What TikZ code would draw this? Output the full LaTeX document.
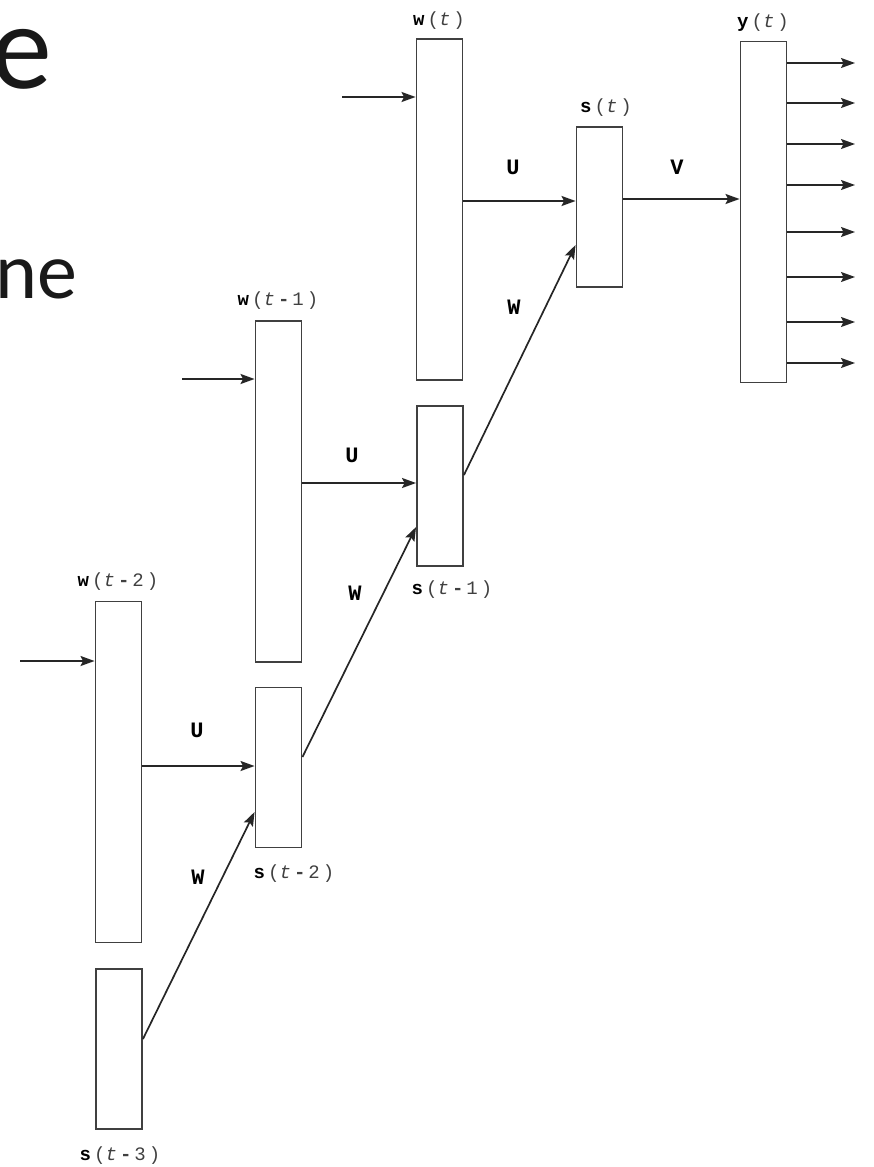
\documentclass[tikz,border=0pt]{standalone}
\usepackage{fontspec}
\setmainfont{Liberation Mono}
\newfontfamily\slidefont{Carlito}
\newfontfamily\lblfont[LetterSpace=16]{Liberation Mono}
\usetikzlibrary{arrows.meta}
% vector label at time t: bold symbol followed by a lighter (t)
\newcommand\veclabel[1]{\textbf{#1}\textcolor{black!75}{(\textit{t})}}
% vector label at an earlier step: bold symbol, then (t-k)
\newcommand\veclabelback[2]{\textbf{#1}\textcolor{black!75}{(\textit{t}\textbf{-}#2)}}

\begin{document}
\begin{tikzpicture}[x=1pt,y=-1pt,
  layer/.style={draw=black!75, line width=1.9pt, fill=white, inner sep=0pt, minimum width=46pt},
  tall/.style={layer, minimum height=341pt},
  short/.style={layer, minimum height=160pt},
  conn/.style={draw=black!85, line width=1.7pt, -{Stealth[length=14pt,width=10pt,inset=2.5pt]}},
  lbl/.style={font=\lblfont\fontsize{19}{19}\selectfont, inner sep=0pt},
  mat/.style={font=\lblfont\bfseries\fontsize{22}{22}\selectfont, inner sep=0pt},
  slide/.style={font=\slidefont, inner sep=0pt, anchor=base east, text=black!90},
]
\useasboundingbox (0,0) rectangle (874,1167);
\clip (0,0) rectangle (874,1167);

% fragments of the slide text behind the figure
\node[slide, font=\slidefont\fontsize{122}{122}\selectfont] (title) at (52,88) {e};
\node[slide, font=\slidefont\fontsize{80}{80}\selectfont] (body) at (78,298) {ne};

% layers, time step t
\node[tall]  (wt)  at (439.5,209.5) {};
\node[short] (st)  at (599.5,207)   {};
\node[tall]  (yt)  at (763.5,212)   {};
% time step t-1
\node[tall]  (wt1) at (278.5,491.5) {};
\node[short] (st1) at (440,486)     {};
% time step t-2
\node[tall]  (wt2) at (118.5,772)   {};
\node[short] (st2) at (278.5,767.5) {};
% time step t-3
\node[short] (st3) at (119,1049)    {};

% layer labels
\node[lbl] (lwt)  at (439,21)   {\veclabel{w}};
\node[lbl] (lst)  at (606,108)  {\veclabel{s}};
\node[lbl] (lyt)  at (763,23)   {\veclabel{y}};
\node[lbl] (lwt1) at (278,301)  {\veclabelback{w}{1}};
\node[lbl] (lst1) at (452,590)  {\veclabelback{s}{1}};
\node[lbl] (lwt2) at (118,582)  {\veclabelback{w}{2}};
\node[lbl] (lst2) at (294,874)  {\veclabelback{s}{2}};
\node[lbl] (lst3) at (120,1156) {\veclabelback{s}{3}};

% weight labels
\node[mat] (mu0) at (513,167) {U};
\node[mat] (mv)  at (677,167) {V};
\node[mat] (mw0) at (514,307) {W};
\node[mat] (mu1) at (352,455) {U};
\node[mat] (mw1) at (355,593) {W};
\node[mat] (mu2) at (197,730) {U};
\node[mat] (mw2) at (198,877) {W};

% word inputs
\coordinate (in0) at (342,97);
\coordinate (in1) at (182,379);
\coordinate (in2) at (20,661);
\draw[conn] (in0) -- (wt.west |- in0);
\draw[conn] (in1) -- (wt1.west |- in1);
\draw[conn] (in2) -- (wt2.west |- in2);

% input-to-state connections U
\draw[conn] (wt.east |- 0,201)  -- (st.west |- 0,201);
\draw[conn] (wt1.east |- 0,483) -- (st1.west |- 0,483);
\draw[conn] (wt2.east |- 0,766) -- (st2.west |- 0,766);

% recurrent connections W
\draw[conn] (st1.east |- 0,475) -- (st.west |- 0,245);
\draw[conn] (st2.east |- 0,757) -- (st1.west |- 0,527);
\draw[conn] (st3.east |- 0,1039) -- (st2.west |- 0,812);

% state-to-output connection V
\draw[conn] (st.east |- 0,199) -- (yt.west |- 0,199);

% outputs
\foreach \yy [count=\i] in {63,103,144,185,232,277,322,363} {
  \coordinate (out\i) at (855,\yy);
  \draw[conn] (yt.east |- out\i) -- (out\i);
}
\end{tikzpicture}
\end{document}
